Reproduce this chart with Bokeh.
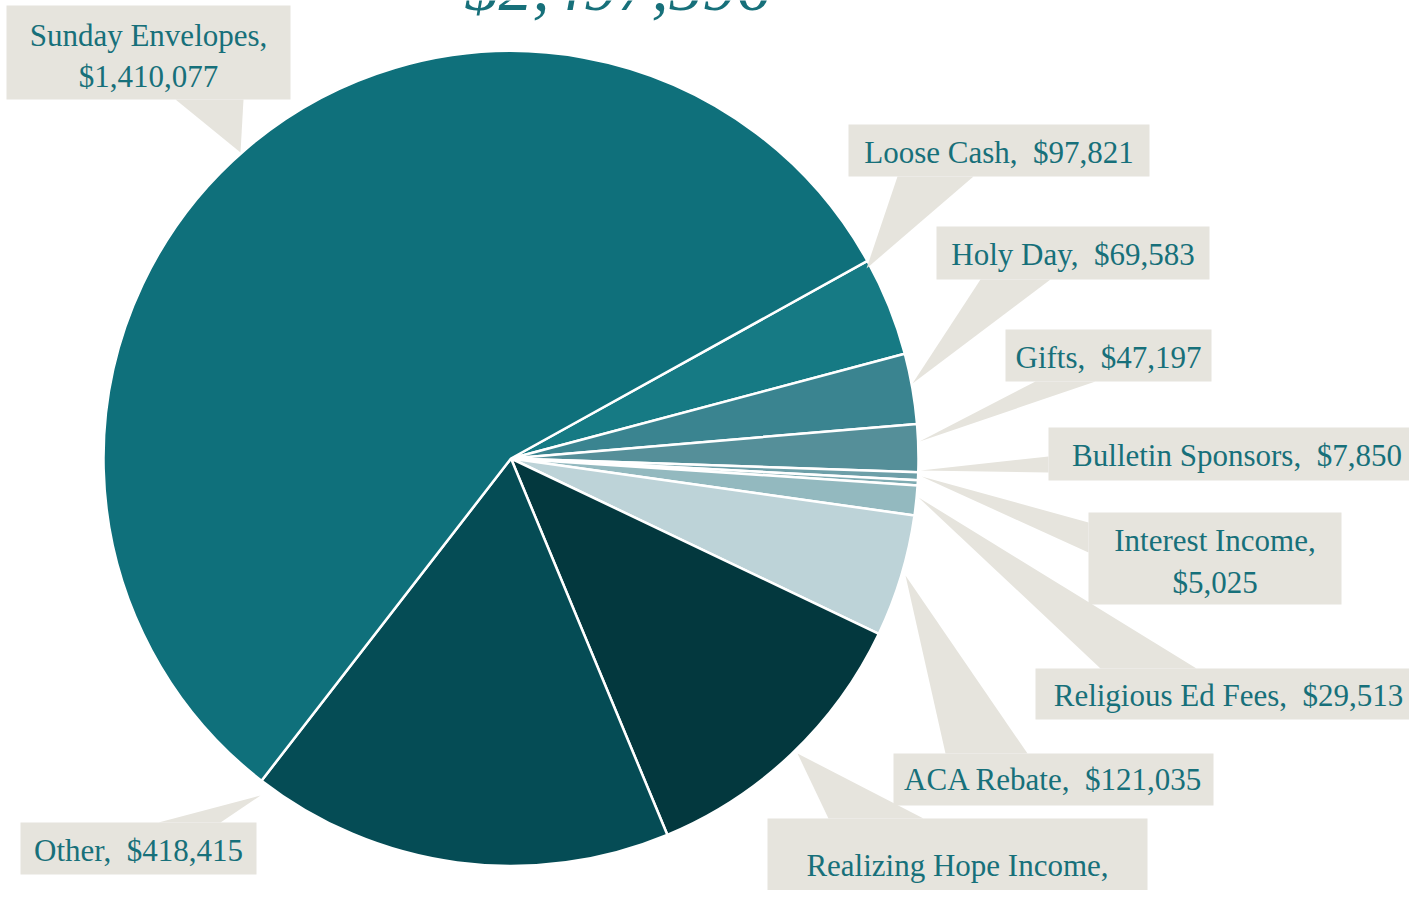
import numpy as np
from bokeh.plotting import figure
from bokeh.models import Range1d, ColumnDataSource
from bokeh.core.properties import value
from bokeh.embed import file_html
from bokeh.resources import INLINE

# ---------------- data ----------------
categories = ["Loose Cash", "Holy Day", "Gifts", "Bulletin Sponsors", "Interest Income",
              "Religious Ed Fees", "ACA Rebate", "Realizing Hope Income", "Other",
              "Sunday Envelopes"]
amounts = [97821, 69583, 47197, 7850, 5025, 29513, 121035, 291080, 418415, 1410077]
title_text = "$2,497,596"

# ---------------- style ----------------
slice_colors = ["#167a84", "#3a8490", "#558f99", "#6d9fa8", "#7eabb2",
                "#93b9bf", "#bdd3d8", "#03383e", "#054c55", "#0f707b"]
TEXT_COLOR = "#17707a"
BOX_COLOR = "#e6e4dd"
FONT = "Liberation Serif"
FS = "31px"
SP = "\u00a0\u00a0"

W, H = 1409, 890
def sy(Y):  # screen y -> data y
    return H - Y

p = figure(width=W, height=H, output_backend="svg", toolbar_location=None,
           x_axis_type=None, y_axis_type=None,
           x_range=Range1d(0, W), y_range=Range1d(0, H),
           min_border=0, outline_line_color=None)
p.grid.visible = False
p.background_fill_color = "white"
p.border_fill_color = "white"

# ---------------- pie ----------------
cx, cy, R = 510.5, sy(458), 407.5
start_deg = 29.0
vals = np.array(amounts, dtype=float)
frac = vals / vals.sum()
cum = np.concatenate([[0], np.cumsum(frac)]) * 2 * np.pi
a0 = np.deg2rad(start_deg)
src = ColumnDataSource(dict(
    start=a0 - cum[1:], end=a0 - cum[:-1], color=slice_colors, cat=categories))
p.wedge(x=cx, y=cy, radius=R, start_angle="start", end_angle="end",
        fill_color="color", line_color="white", line_width=2.5, source=src)

# ---------------- callouts (screen layout) ----------------
labels_txt = {
    "Sunday Envelopes": ["Sunday Envelopes,", "$1,410,077"],
    "Loose Cash": ["Loose Cash," + SP + "$97,821"],
    "Holy Day": ["Holy Day," + SP + "$69,583"],
    "Gifts": ["Gifts," + SP + "$47,197"],
    "Bulletin Sponsors": ["Bulletin Sponsors," + SP + "$7,850"],
    "Interest Income": ["Interest Income,", "$5,025"],
    "Religious Ed Fees": ["Religious Ed Fees," + SP + "$29,513"],
    "ACA Rebate": ["ACA Rebate," + SP + "$121,035"],
    "Realizing Hope Income": ["Realizing Hope Income,", "$291,080"],
    "Other": ["Other," + SP + "$418,415"],
}
layout = {
    "Sunday Envelopes": dict(box=(6, 5, 290, 99), tri=[(175, 99), (243, 99), (240, 152)], ty=[35, 76]),
    "Loose Cash": dict(box=(848, 124, 1149, 176), tri=[(897, 176), (973, 176), (866, 268)], ty=[152]),
    "Holy Day": dict(box=(936, 226, 1209, 279), tri=[(980, 279), (1050, 279), (912, 383)], ty=[254]),
    "Gifts": dict(box=(1005, 329, 1211, 381), tri=[(1035, 381), (1095, 381), (919, 441)], ty=[357]),
    "Bulletin Sponsors": dict(box=(1048, 427, 1425, 480), tri=[(1048, 456), (1048, 472), (920, 470)], ty=[455]),
    "Interest Income": dict(box=(1088, 512, 1341, 604), tri=[(1088, 522), (1088, 552), (921, 476)], ty=[540, 582]),
    "Religious Ed Fees": dict(box=(1035, 668, 1421, 719), tri=[(1100, 668), (1196, 668), (918, 497)], ty=[695]),
    "ACA Rebate": dict(box=(893, 753, 1213, 805), tri=[(945, 753), (1027, 753), (905, 575)], ty=[779]),
    "Realizing Hope Income": dict(box=(767, 818, 1147, 930), tri=[(828, 818), (923, 818), (797, 753)], ty=[865, 908]),
    "Other": dict(box=(20, 822, 256, 874), tri=[(158, 822), (220, 822), (260, 795)], ty=[850]),
}

tri_xs, tri_ys = [], []
bx0, bx1, by0, by1 = [], [], [], []
tx, ty, tt = [], [], []
for cat in categories:
    L = layout[cat]
    x0, y0, x1, y1 = L["box"]
    bx0.append(x0); bx1.append(x1); by0.append(sy(y1)); by1.append(sy(y0))
    tri_xs.append([q[0] for q in L["tri"]])
    tri_ys.append([sy(q[1]) for q in L["tri"]])
    for line, yy in zip(labels_txt[cat], L["ty"]):
        tx.append((x0 + x1) / 2); ty.append(sy(yy)); tt.append(line)

p.patches(xs=tri_xs, ys=tri_ys, fill_color=BOX_COLOR, line_color=None)
p.quad(left=bx0, right=bx1, bottom=by0, top=by1, fill_color=BOX_COLOR, line_color=None)
p.text(x=tx, y=ty, text=tt, text_align="center", text_baseline="middle",
       text_font=value(FONT), text_font_size=FS, text_color=TEXT_COLOR)

# ---------------- title (mostly cut off at top) ----------------
p.text(x=[617], y=[sy(-14)], text=[title_text], text_align="center", text_baseline="alphabetic",
       text_font=value(FONT), text_font_size="68px", text_font_style="italic",
       text_color=TEXT_COLOR)

open("out.html", "w").write(file_html(p, INLINE))
